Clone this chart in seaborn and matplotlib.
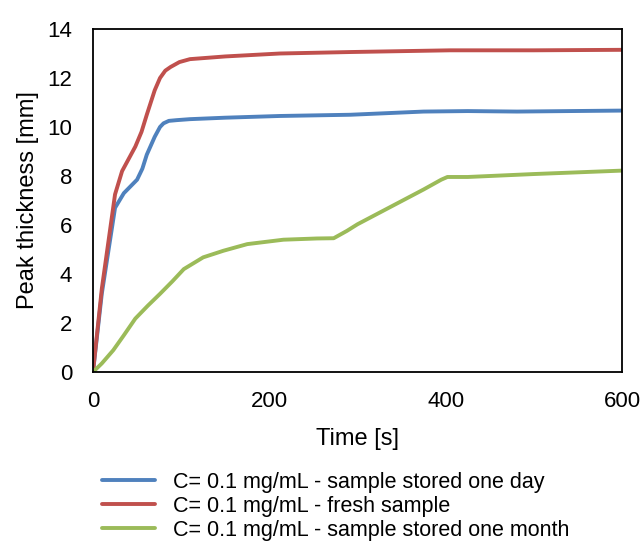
import matplotlib
matplotlib.use("Agg")
import matplotlib.pyplot as plt
import seaborn as sns
import pandas as pd

# Data
t_day = [0, 10, 25, 35, 50, 56, 61, 70, 76, 80, 86, 95, 110, 150, 212, 292, 375, 425, 481, 540, 600]
v_day = [0, 3.2, 6.7, 7.3, 7.85, 8.3, 8.87, 9.6, 10.0, 10.15, 10.25, 10.28, 10.32, 10.38, 10.45, 10.5, 10.63, 10.65, 10.63, 10.65, 10.67]

t_fresh = [0, 10, 25, 33, 48, 55, 61, 70, 76, 82, 88, 98, 110, 150, 212, 292, 405, 500, 600]
v_fresh = [0, 3.4, 7.25, 8.2, 9.2, 9.8, 10.5, 11.5, 12.0, 12.3, 12.45, 12.65, 12.77, 12.88, 13.0, 13.06, 13.13, 13.13, 13.15]

t_month = [0, 10, 23, 35, 48, 62, 76, 90, 103, 125, 148, 175, 216, 254, 273, 288, 300, 375, 395, 402, 425, 500, 600]
v_month = [0, 0.35, 0.89, 1.5, 2.18, 2.7, 3.19, 3.7, 4.2, 4.68, 4.95, 5.22, 5.4, 5.45, 5.46, 5.76, 6.03, 7.45, 7.85, 7.96, 7.96, 8.08, 8.22]

labels = ["C= 0.1 mg/mL - sample stored one day",
          "C= 0.1 mg/mL - fresh sample",
          "C= 0.1 mg/mL - sample stored one month"]
colors = ["#4F81BD", "#C0504D", "#9BBB59"]

x_ticks = [0, 200, 400, 600]
y_ticks = [0, 2, 4, 6, 8, 10, 12, 14]

frames = []
for t, v, lab in [(t_day, v_day, labels[0]), (t_fresh, v_fresh, labels[1]), (t_month, v_month, labels[2])]:
    frames.append(pd.DataFrame({"Time": t, "Value": v, "Series": lab}))
df = pd.concat(frames, ignore_index=True)

sns.set_style("white")
plt.rcParams["font.family"] = ["Liberation Sans", "DejaVu Sans"]
plt.rcParams["text.color"] = "black"
plt.rcParams["axes.labelcolor"] = "black"

fig = plt.figure(figsize=(6.42, 5.43), dpi=100)
ax = fig.add_axes([93/642, 1-372/543, (622-93)/642, (372-29)/543])

sns.lineplot(data=df, x="Time", y="Value", hue="Series", hue_order=labels,
             palette=dict(zip(labels, colors)), linewidth=2.8, ax=ax, sort=False,
             legend=False)
for ln in ax.lines:
    ln.set_solid_joinstyle("round")
    ln.set_solid_capstyle("round")

ax.set_xlim(0, 600)
ax.set_ylim(0, 14)
ax.set_xticks(x_ticks)
ax.set_yticks(y_ticks)
ax.tick_params(axis="both", direction="in", length=6, width=1.2, labelsize=16,
               colors="black")
ax.tick_params(axis="y", pad=15)
ax.tick_params(axis="x", pad=14)
for s in ax.spines.values():
    s.set_visible(True)
    s.set_color("black")
    s.set_linewidth(1.3)
ax.set_xlabel("Time [s]", fontsize=17, labelpad=11)
ax.set_ylabel("Peak thickness [mm]", fontsize=17, labelpad=6)

handles = [plt.Line2D([], [], color=c, linewidth=2.8) for c in colors]
fig.legend(handles, labels, loc="upper left", bbox_to_anchor=(102/642, 1-472/543),
           frameon=False, fontsize=15.5, handlelength=2.45, handletextpad=0.84,
           labelspacing=0.14, borderaxespad=0, borderpad=0)

fig.savefig("out.png", dpi=100)
